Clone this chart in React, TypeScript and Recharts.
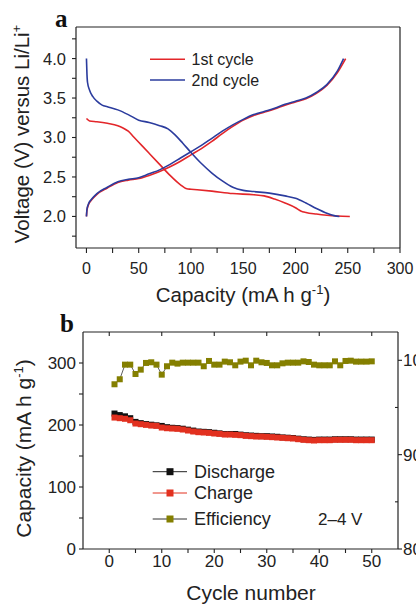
import React from 'react';
import { LineChart, ComposedChart, Line, XAxis, YAxis, ReferenceLine, Legend } from 'recharts';

const FONT = '"Liberation Sans", Arial, Helvetica, sans-serif';
const INK = '#222';
const RED = '#e3262a';
const BLUE = '#2b3c9e';
const CH_RED = '#e2301f';
const OLIVE = '#847f00';

// ---- panel a: voltage profiles, capacity in mA h g-1, voltage in V ----
const dis1Cap = [0, 3, 10, 20, 30, 35, 40, 45, 50, 60, 70, 80, 90, 96, 100, 120, 140, 160, 170, 180, 190, 200, 205, 210, 220, 230, 240, 252];
const dis1V = [3.24, 3.21, 3.2, 3.18, 3.15, 3.12, 3.08, 3.01, 2.94, 2.8, 2.66, 2.52, 2.4, 2.35, 2.345, 2.32, 2.29, 2.275, 2.26, 2.22, 2.17, 2.11, 2.07, 2.05, 2.03, 2.015, 2.005, 2.0];
const chg1Cap = [0, 0.5, 2, 5, 10, 20, 30, 40, 50, 60, 70, 80, 90, 100, 110, 120, 130, 140, 150, 160, 170, 180, 190, 200, 210, 220, 230, 240, 248];
const chg1V = [2.0, 2.08, 2.15, 2.21, 2.28, 2.36, 2.43, 2.46, 2.48, 2.52, 2.57, 2.63, 2.7, 2.78, 2.86, 2.95, 3.05, 3.14, 3.22, 3.28, 3.32, 3.36, 3.41, 3.45, 3.49, 3.56, 3.66, 3.82, 4.0];
const dis2Cap = [0, 0.5, 1, 3, 6, 10, 15, 20, 30, 40, 50, 60, 70, 78, 85, 92, 100, 110, 120, 130, 140, 150, 160, 175, 190, 200, 210, 220, 230, 237, 242];
const dis2V = [4.0, 3.8, 3.7, 3.6, 3.52, 3.46, 3.41, 3.39, 3.35, 3.29, 3.22, 3.19, 3.15, 3.11, 3.03, 2.93, 2.81, 2.67, 2.55, 2.45, 2.37, 2.33, 2.315, 2.295, 2.26, 2.23, 2.17, 2.1, 2.04, 2.01, 2.0];
const chg2Cap = [0, 0.5, 2, 5, 10, 20, 30, 40, 50, 60, 70, 80, 90, 100, 110, 120, 130, 140, 150, 160, 170, 180, 190, 200, 210, 220, 230, 240, 246];
const chg2V = [2.0, 2.09, 2.16, 2.22, 2.29, 2.37, 2.44, 2.47, 2.49, 2.54, 2.59, 2.66, 2.74, 2.82, 2.9, 2.99, 3.08, 3.16, 3.23, 3.29, 3.33, 3.37, 3.42, 3.46, 3.5, 3.57, 3.67, 3.84, 4.0];

const voltTicks = [1.75, 2, 2.25, 2.5, 2.75, 3, 3.25, 3.5, 3.75, 4, 4.25];
const capTicks = [0, 25, 50, 75, 100, 125, 150, 175, 200, 225, 250, 275, 300];

// ---- panel b: cycling ----
const cycles = [1, 2, 3, 4, 5, 6, 7, 8, 9, 10, 11, 12, 13, 14, 15, 16, 17, 18, 19, 20, 21, 22, 23, 24, 25,
  26, 27, 28, 29, 30, 31, 32, 33, 34, 35, 36, 37, 38, 39, 40, 41, 42, 43, 44, 45, 46, 47, 48, 49, 50];
const discharge = [218.5, 216, 214, 211, 205, 203, 201.5, 200.5, 199.5, 198.5, 196.5, 195.5, 195, 194, 192.5, 191, 189.5, 189, 188.5, 187.5,
  186.5, 185.5, 185.5, 185.5, 184.5, 183.5, 183, 182.5, 182, 182, 181.5, 181, 180, 179.5, 179, 178, 177, 176.5, 176, 176.5,
  176.5, 176.5, 177, 177, 177, 177, 176.5, 176.5, 176.5, 176.5];
const charge = [212, 211, 210, 207.7, 202.4, 201.3, 200.2, 199.1, 198.6, 195.9, 194.8, 194.3, 193.8, 192.7, 191.1, 189.5, 188.4, 187.9, 187.3, 186.3,
  185.7, 184.6, 184.6, 184.1, 183.6, 182.5, 182, 181.4, 181.4, 180.9, 180.4, 179.8, 179.3, 178.7, 178.2, 177.1, 176.1, 175.5, 175, 175.5,
  175.5, 175.5, 176.1, 176.1, 176.1, 176.1, 175.5, 175.5, 175.5, 175.5];
const efficiency = [97.46, 97.99, 99.54, 99.54, 98.55, 99.01, 99.72, 99.79, 99.54, 98.48, 99.37, 99.75, 99.65, 99.75, 99.75, 99.75, 99.75, 99.37, 99.93, 99.54,
  99.54, 99.86, 99.79, 99.47, 99.86, 99.96, 99.47, 99.96, 99.79, 99.72, 99.47, 99.47, 99.68, 99.75, 99.75, 99.75, 99.89, 99.82, 99.54, 99.47,
  99.47, 99.47, 99.89, 99.47, 99.93, 99.96, 99.86, 99.86, 99.86, 99.89];

const capAxisTicks = [0, 50, 100, 150, 200, 250, 300];
const effTicks = [80, 85, 90, 95, 100];
const cycleTicks = [0, 5, 10, 15, 20, 25, 30, 35, 40, 45, 50];
const cycleTopTicks = [0, 10, 20, 30, 40, 50];

const pts = (cap: number[], v: number[]) => cap.map((c, i) => ({ cap: c, v: v[i] }));
const cycleRows = cycles.map((c, i) => ({ cycle: c, dis: discharge[i], chg: charge[i], eff: efficiency[i] }));

type Side = 'left' | 'right' | 'top' | 'bottom';
type TickOpts = {
  isMajor: (v: number) => boolean;
  fmt?: (v: number) => string;
  len: number;
  minorLen?: number;
  majorIn?: boolean;
  minorIn?: boolean;
  gap?: number;
  size?: number;
};

// tickSize/tickMargin are 0, so x,y sit on the axis line itself
const makeTick = (side: Side, o: TickOpts) => (props: any) => {
  const { x, y, payload } = props;
  const v = payload.value;
  const major = o.isMajor(v);
  const len = major ? o.len : o.minorLen ?? o.len;
  const out = (major ? o.majorIn : o.minorIn) ? -1 : 1;
  let x2 = x;
  let y2 = y;
  if (side === 'left') x2 = x - out * len;
  if (side === 'right') x2 = x + out * len;
  if (side === 'top') y2 = y - out * len;
  if (side === 'bottom') y2 = y + out * len;
  const g = o.gap ?? 8;
  let label = null;
  if (major && o.fmt) {
    const common = { fontSize: o.size ?? 16, fontFamily: FONT, fill: INK };
    if (side === 'left') label = <text x={x - g} y={y} dy="0.36em" textAnchor="end" {...common}>{o.fmt(v)}</text>;
    if (side === 'right') label = <text x={x + g} y={y} dy="0.36em" textAnchor="start" {...common}>{o.fmt(v)}</text>;
    if (side === 'bottom') label = <text x={x} y={y + g} textAnchor="middle" {...common}>{o.fmt(v)}</text>;
  }
  return (
    <g>
      <line x1={x} y1={y} x2={x2} y2={y2} stroke={INK} strokeWidth={1.1} />
      {label}
    </g>
  );
};

const square = (fill: string, s = 6) => (p: any) => (
  <rect key={`sq-${p.index}`} x={p.cx - s / 2} y={p.cy - s / 2} width={s} height={s} fill={fill} />
);

const near = (v: number, step: number) => Math.abs(v / step - Math.round(v / step)) < 1e-6;
const axisLine = { stroke: INK, strokeWidth: 1.2 };

const PanelA = () => (
  <LineChart width={416} height={312} margin={{ top: 27, right: 16, bottom: 0, left: 0 }}>
    <XAxis
      dataKey="cap" type="number" domain={[-10, 300]} ticks={capTicks} interval={0} allowDataOverflow
      height={64} tickSize={0} tickMargin={0} tickLine={false} axisLine={axisLine}
      tick={makeTick('bottom', { isMajor: v => near(v, 50), fmt: v => String(v), len: 5, gap: 26, size: 16 })}
      label={() => (
        <text x={243} y={302} textAnchor="middle" fontSize={20.5} fontFamily={FONT} fill={INK}>
          <tspan>Capacity (mA h g</tspan>
          <tspan dy={-8} fontSize={13}>-1</tspan>
          <tspan dy={8}>)</tspan>
        </text>
      )}
    />
    <YAxis
      type="number" domain={[1.6, 4.4]} ticks={voltTicks} interval={0} allowDataOverflow
      width={76} tickSize={0} tickMargin={0} tickLine={false} axisLine={axisLine}
      tick={makeTick('left', { isMajor: v => near(v, 0.5), fmt: v => v.toFixed(1), len: 4, gap: 10, size: 16.5 })}
      label={() => (
        <text x={29} y={134} transform="rotate(-90 29 134)" textAnchor="middle" fontSize={20.5} fontFamily={FONT} fill={INK}>
          <tspan>Voltage (V) versus Li/Li</tspan>
          <tspan dy={-8} fontSize={13}>+</tspan>
        </text>
      )}
    />
    <ReferenceLine x={300} stroke={INK} strokeWidth={1.2} />
    <ReferenceLine y={4.4} stroke={INK} strokeWidth={1.2} />
    <Line data={pts(dis1Cap, dis1V)} dataKey="v" type="monotone" stroke={RED} strokeWidth={1.6} dot={false} isAnimationActive={false} />
    <Line data={pts(chg1Cap, chg1V)} dataKey="v" type="monotone" stroke={RED} strokeWidth={1.6} dot={false} isAnimationActive={false} />
    <Line data={pts(dis2Cap, dis2V)} dataKey="v" type="monotone" stroke={BLUE} strokeWidth={1.6} dot={false} isAnimationActive={false} />
    <Line data={pts(chg2Cap, chg2V)} dataKey="v" type="monotone" stroke={BLUE} strokeWidth={1.6} dot={false} isAnimationActive={false} />
    <Legend
      layout="horizontal" verticalAlign="middle" align="center"
      wrapperStyle={{ left: 145, top: 45, width: 140, height: 50 }}
      content={() => (
        <svg width={140} height={50}>
          {[{ name: '1st cycle', color: RED, y: 14.3 }, { name: '2nd cycle', color: BLUE, y: 35 }].map(r => (
            <g key={r.name}>
              <line x1={5} x2={40} y1={r.y} y2={r.y} stroke={r.color} strokeWidth={1.6} />
              <text x={46.5} y={r.y} dy="0.36em" fontSize={16} fontFamily={FONT} fill={INK}>{r.name}</text>
            </g>
          ))}
        </svg>
      )}
    />
  </LineChart>
);

const legendB = [
  { name: 'Discharge', line: '#222', fill: '#111', y: 13.7 },
  { name: 'Charge', line: CH_RED, fill: CH_RED, y: 35 },
  { name: 'Efficiency', line: '#333', fill: OLIVE, y: 61 },
];

const PanelB = () => (
  <ComposedChart width={416} height={304} data={cycleRows} margin={{ top: 31, right: 0, bottom: 0, left: 0 }}>
    <XAxis
      dataKey="cycle" type="number" domain={[-5, 55]} ticks={cycleTicks} interval={0} allowDataOverflow
      height={55} tickSize={0} tickMargin={0} tickLine={false} axisLine={axisLine}
      tick={makeTick('bottom', { isMajor: v => near(v, 10), fmt: v => String(v), len: 4, gap: 18, size: 17 })}
      label={() => (
        <text x={251} y={300} textAnchor="middle" fontSize={21} fontFamily={FONT} fill={INK}>Cycle number</text>
      )}
    />
    <XAxis
      xAxisId="top" orientation="top" dataKey="cycle" type="number" domain={[-5, 55]} ticks={cycleTopTicks} interval={0}
      allowDataOverflow height={1} tickSize={0} tickMargin={0} tickLine={false} axisLine={axisLine}
      tick={makeTick('top', { isMajor: () => true, len: 4, majorIn: true })}
    />
    <YAxis
      yAxisId="left" type="number" domain={[0, 350]} ticks={[0, 50, 100, 150, 200, 250, 300]} interval={0} allowDataOverflow
      width={83} tickSize={0} tickMargin={0} tickLine={false} axisLine={axisLine}
      tick={makeTick('left', { isMajor: v => near(v, 100), fmt: v => String(v), len: 4, gap: 7, size: 17 })}
      label={() => (
        <text x={31} y={148.5} transform="rotate(-90 31 148.5)" textAnchor="middle" fontSize={21} fontFamily={FONT} fill={INK}>
          <tspan>Capacity (mA h g</tspan>
          <tspan dy={-8} fontSize={13}>-1</tspan>
          <tspan dy={8}>)</tspan>
        </text>
      )}
    />
    <YAxis
      yAxisId="right" orientation="right" type="number" domain={[80, 103]} ticks={effTicks} interval={0} allowDataOverflow
      width={18} tickSize={0} tickMargin={0} tickLine={false} axisLine={axisLine}
      tick={makeTick('right', { isMajor: v => near(v, 10), fmt: v => String(v), len: 4, minorLen: 3, minorIn: true, gap: 5, size: 17 })}
    />
    <Line yAxisId="left" dataKey="dis" stroke="#222" strokeWidth={1} dot={square('#111')} isAnimationActive={false} />
    <Line yAxisId="left" dataKey="chg" stroke={CH_RED} strokeWidth={1} dot={square(CH_RED)} isAnimationActive={false} />
    <Line yAxisId="right" dataKey="eff" stroke="#333" strokeWidth={0.8} dot={square(OLIVE)} isAnimationActive={false} />
    <Legend
      layout="horizontal" verticalAlign="middle" align="center"
      wrapperStyle={{ left: 148, top: 158, width: 230, height: 75 }}
      content={() => (
        <svg width={230} height={75}>
          {legendB.map(r => (
            <g key={r.name}>
              <line x1={4.7} x2={39} y1={r.y} y2={r.y} stroke={r.line} strokeWidth={1} />
              <rect x={18.5} y={r.y - 3.5} width={7} height={7} fill={r.fill} />
              <text x={46} y={r.y} dy="0.36em" fontSize={18} fontFamily={FONT} fill={INK}>{r.name}</text>
            </g>
          ))}
          <text x={170} y={61} dy="0.36em" fontSize={17} fontFamily={FONT} fill={INK}>2–4 V</text>
        </svg>
      )}
    />
  </ComposedChart>
);

export default function App() {
  return (
    <div style={{ position: 'absolute', left: 0, top: 0, width: 416, height: 604, background: '#fff', overflow: 'hidden' }}>
      <div style={{ position: 'absolute', left: 0, top: 0 }}>
        <PanelA />
      </div>
      <div style={{ position: 'absolute', left: 0, top: 300 }}>
        <PanelB />
      </div>
      <svg width={416} height={604} style={{ position: 'absolute', left: 0, top: 0, pointerEvents: 'none' }}>
        <text x={55} y={27} fontSize={25} fontWeight="bold" fontFamily='"Liberation Serif", "Times New Roman", serif' fill="#111">a</text>
        <text x={60} y={332} fontSize={25} fontWeight="bold" fontFamily='"Liberation Serif", "Times New Roman", serif' fill="#111">b</text>
      </svg>
    </div>
  );
}
